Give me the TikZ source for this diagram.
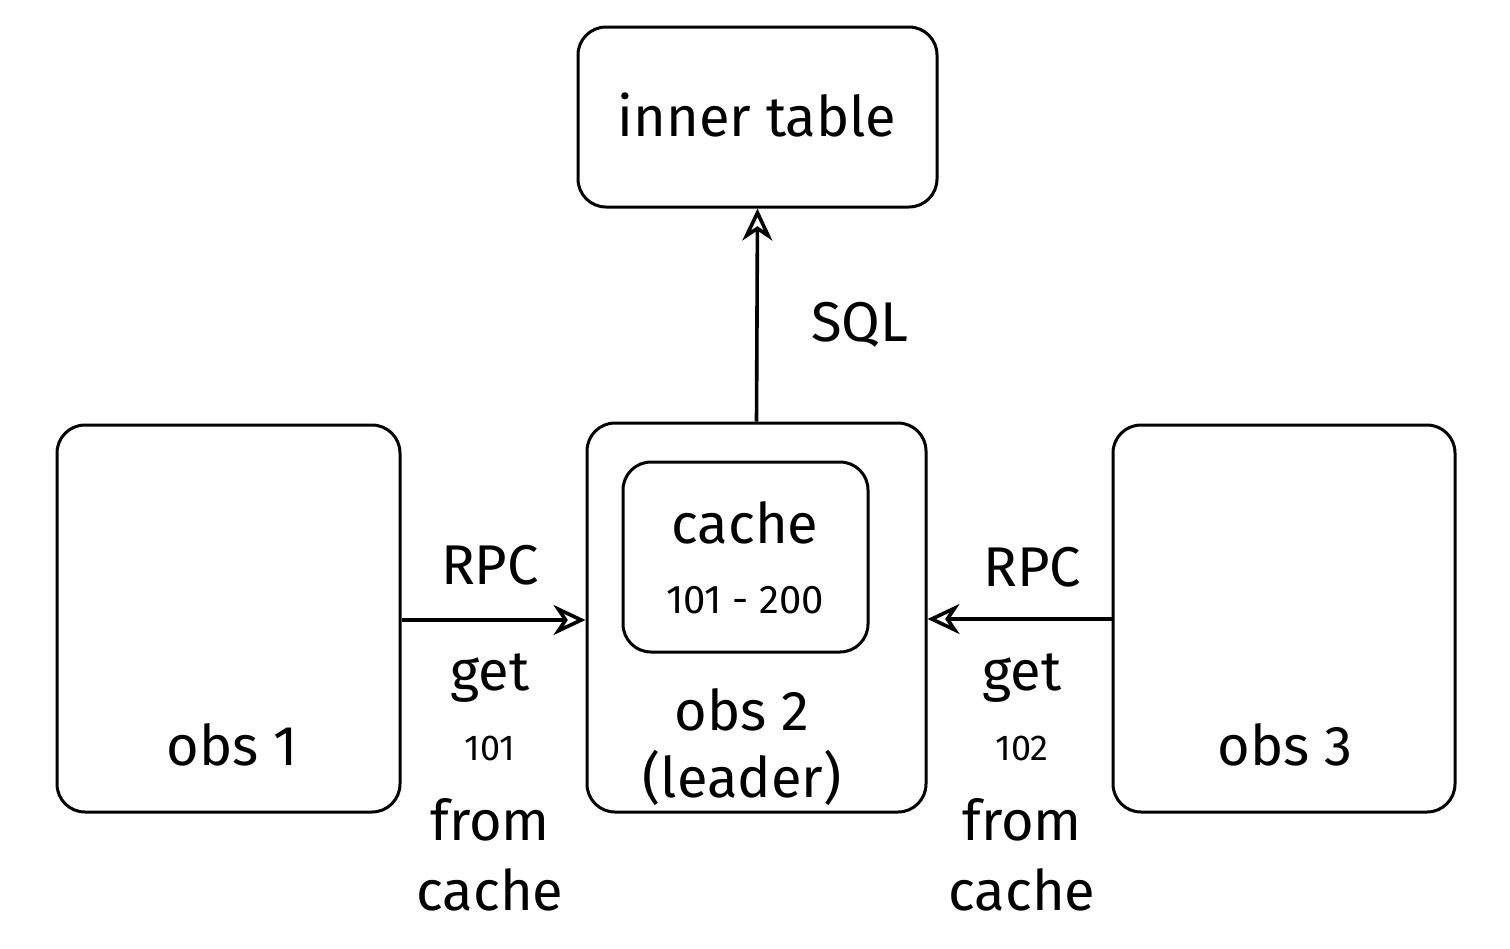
\documentclass[tikz,border=0pt]{standalone}
\usepackage{fontspec}
\setmainfont{Fira Sans}
\usetikzlibrary{arrows.meta}
\tikzset{
  box/.style={draw=black, line width=1.5pt, rounded corners=14pt, fill=white, inner sep=0pt},
  big/.style={font=\fontsize{28}{32}\selectfont, inner sep=0pt},
  small/.style={font=\fontsize{20}{24}\selectfont, inner sep=0pt},
  tiny/.style={font=\fontsize{18}{22}\selectfont, inner sep=0pt},
  conn/.style={draw=black, line width=1.8pt, -{Stealth[open, length=16pt, width=15pt, inset=5pt]}},
}
\begin{document}
\begin{tikzpicture}[x=0.5pt, y=-0.5pt]
  \useasboundingbox (0,0) rectangle (1510,948);
  % boxes
  \node[box, minimum width=179.5pt, minimum height=90pt] (inner) at (757.5,117) {};
  \node[box, minimum width=171.5pt, minimum height=193.5pt] (obsA) at (228.5,618.5) {};
  \node[box, minimum width=169.5pt, minimum height=194.5pt] (obsB) at (756.5,617.5) {};
  \node[box, minimum width=122.5pt, minimum height=95pt] (cache) at (745.5,557) {};
  \node[box, minimum width=171pt, minimum height=193.5pt] (obsC) at (1284,618.5) {};
  % texts
  \node[big] (tinner) at (757,115) {inner table};
  \node[big] (tobsA) at (232,745) {obs 1};
  \node[big] (tcache) at (745,523) {cache};
  \node[small] (trange) at (745,600) {101 - 200};
  \node[big] (tobsB) at (742,710) {obs 2};
  \node[big] (tleader) at (742,778) {(leader)};
  \node[big] (tobsC) at (1285,745) {obs 3};
  \node[big] (tsql) at (860,325) {SQL};
  \node[big] (trpcA) at (490,565) {RPC};
  \node[big] (tgetA) at (490,678) {get};
  \node[tiny] (tnumA) at (490,748) {101};
  \node[big] (tfromA) at (490,820) {from};
  \node[big] (tcacheA) at (490,890) {cache};
  \node[big] (trpcC) at (1032,567) {RPC};
  \node[big] (tgetC) at (1022,678) {get};
  \node[tiny] (tnumC) at (1022,748) {102};
  \node[big] (tfromC) at (1022,820) {from};
  \node[big] (tcacheC) at (1022,890) {cache};
  % connectors
  \draw[conn] (obsB.north) -- (inner.south);
  \draw[conn] (obsA.east |- 0,620) -- (obsB.west |- 0,620);
  \draw[conn] (obsC.west |- 0,619) -- (obsB.east |- 0,619);
\end{tikzpicture}
\end{document}
